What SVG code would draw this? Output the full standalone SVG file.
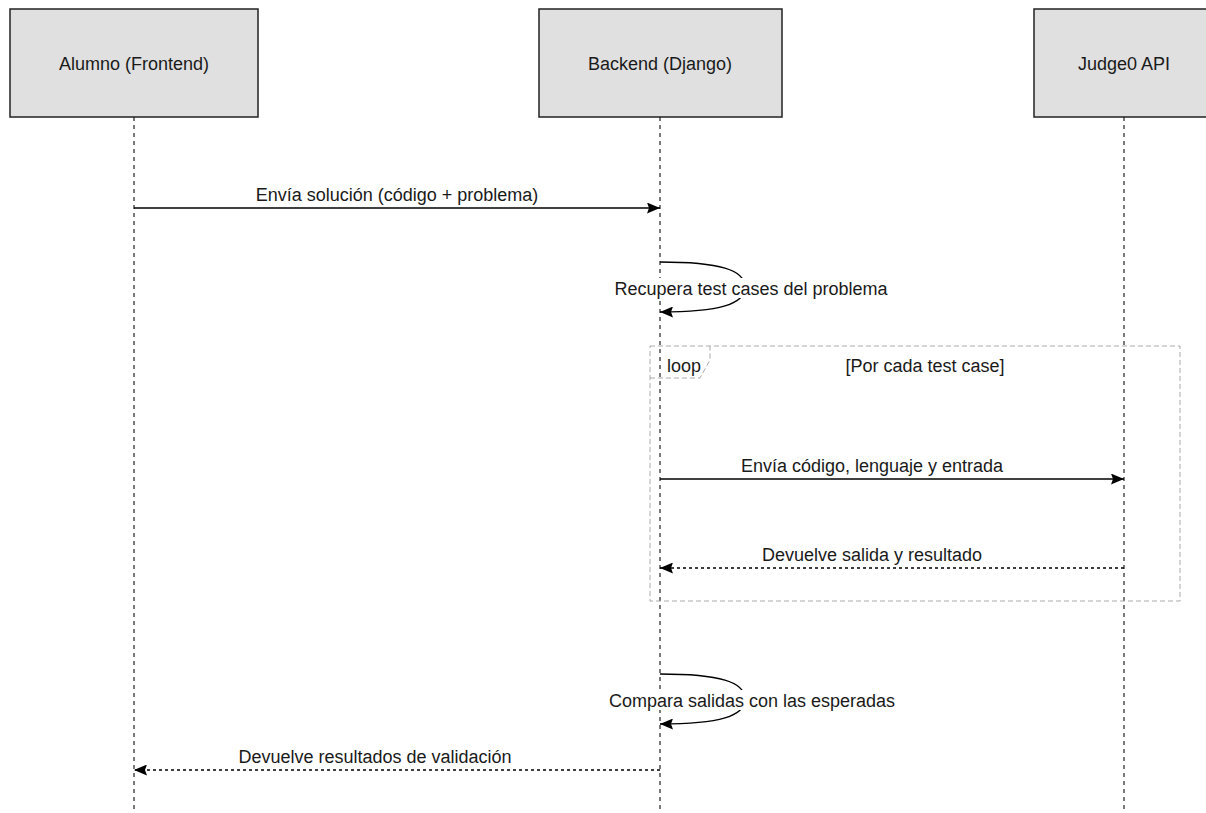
<svg xmlns="http://www.w3.org/2000/svg" width="1206" height="813" viewBox="0 0 1206 813">
<defs>
<marker id="ah" viewBox="0 0 13 11" refX="13" refY="5.5" markerWidth="13" markerHeight="11" markerUnits="userSpaceOnUse" orient="auto">
<path d="M0,0 L13,5.5 L0,11 L2,5.5 Z" fill="#000"/>
</marker>
<style>
.box{fill:#e0e0e0;stroke:#222;stroke-width:1.5}
.t{font-family:"Liberation Sans",Arial,sans-serif;font-size:18px;fill:#1a1a1a}
.life{stroke:#333;stroke-width:1.3;stroke-dasharray:4 4;fill:none}
.msg{stroke:#000;stroke-width:1.4;fill:none}
.ret{stroke:#000;stroke-width:1.4;fill:none;stroke-dasharray:3 3}
.frame{fill:none;stroke:#aaa;stroke-width:1;stroke-dasharray:5 3}
</style>
</defs>
<rect width="1206" height="813" fill="#fff"/>
<g id="lifelines">
<line class="life" x1="134" y1="117" x2="134" y2="813"/>
<line class="life" x1="660" y1="117" x2="660" y2="813"/>
<line class="life" x1="1124" y1="117" x2="1124" y2="813"/>
</g>
<g id="alumno">
<rect class="box" x="10" y="9" width="248" height="108"/>
<text class="t" x="134" y="70" text-anchor="middle">Alumno (Frontend)</text>
</g>
<g id="backend">
<rect class="box" x="539" y="9" width="243" height="108"/>
<text class="t" x="660" y="70" text-anchor="middle">Backend (Django)</text>
</g>
<g id="judge0">
<rect class="box" x="1034" y="9" width="190" height="108"/>
<text class="t" x="1124" y="70" text-anchor="middle">Judge0 API</text>
</g>
<g id="loop">
<rect class="frame" x="650" y="346" width="530" height="255"/>
<path class="frame" d="M650,378 L700,378 L710,360 L710,346"/>
<text class="t" x="667" y="372">loop</text>
<text class="t" x="925" y="372" text-anchor="middle">[Por cada test case]</text>
</g>
<g id="connectors">
<line class="msg" x1="134" y1="208" x2="660" y2="208" marker-end="url(#ah)"/>
<text class="t" x="397" y="201" text-anchor="middle">Envía solución (código + problema)</text>
<path class="msg" d="M660,262 C720,262 745,270 745,287 C745,304 720,312 660,312" marker-end="url(#ah)"/>
<rect x="610" y="278" width="282" height="20" fill="#fff"/>
<text class="t" x="751" y="295" text-anchor="middle">Recupera test cases del problema</text>
<line class="msg" x1="660" y1="479" x2="1124" y2="479" marker-end="url(#ah)"/>
<text class="t" x="872" y="472" text-anchor="middle">Envía código, lenguaje y entrada</text>
<line class="ret" x1="1124" y1="568" x2="660" y2="568" marker-end="url(#ah)"/>
<text class="t" x="872" y="561" text-anchor="middle">Devuelve salida y resultado</text>
<path class="msg" d="M660,674 C720,674 745,682 745,699 C745,716 720,724 660,724" marker-end="url(#ah)"/>
<rect x="605" y="690" width="294" height="20" fill="#fff"/>
<text class="t" x="752" y="707" text-anchor="middle">Compara salidas con las esperadas</text>
<line class="ret" x1="660" y1="770" x2="134" y2="770" marker-end="url(#ah)"/>
<text class="t" x="375" y="763" text-anchor="middle">Devuelve resultados de validación</text>
</g>
</svg>
